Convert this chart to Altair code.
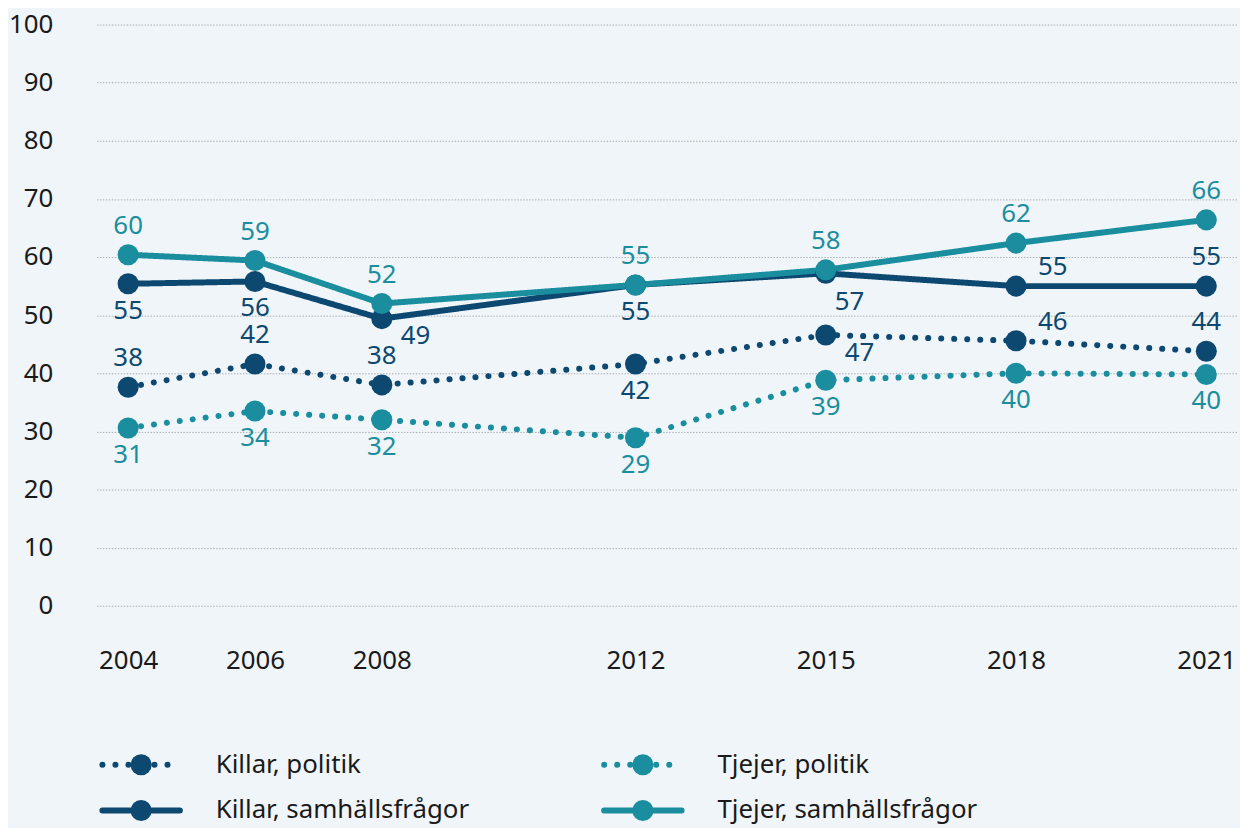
import altair as alt
import pandas as pd

years = [2004, 2006, 2008, 2012, 2015, 2018, 2021]
series_names = ["Killar, politik", "Tjejer, politik", "Killar, samhällsfrågor", "Tjejer, samhällsfrågor"]

killar_politik = [37.6, 41.6, 38.0, 41.6, 46.6, 45.6, 43.8]
tjejer_politik = [30.6, 33.5, 32.0, 28.9, 38.8, 40.0, 39.8]
killar_samhalle = [55.4, 55.8, 49.4, 55.2, 57.2, 55.0, 55.0]
tjejer_samhalle = [60.4, 59.4, 52.0, 55.2, 57.8, 62.4, 66.4]

# label placement category for each point
killar_politik_pos = ["above", "above", "above", "below", "right_down", "right_up", "above"]
tjejer_politik_pos = ["below"] * 7
killar_samhalle_pos = ["below", "below", "right_down", "below", "below_shift", "right_up", "above"]
tjejer_samhalle_pos = ["above"] * 7

colors = ["#0c4870", "#1a8e9f", "#0c4870", "#1a8e9f"]
dashes = [[0.1, 13], [0.1, 13], [1, 0], [1, 0]]

rows = []
for name, vals, pos in zip(
    series_names,
    [killar_politik, tjejer_politik, killar_samhalle, tjejer_samhalle],
    [killar_politik_pos, tjejer_politik_pos, killar_samhalle_pos, tjejer_samhalle_pos],
):
    for y, v, p in zip(years, vals, pos):
        rows.append({"year": y, "value": v, "series": name, "pos": p})
df = pd.DataFrame(rows)
legend_df = pd.DataFrame({"series": series_names, "idx": list(range(len(series_names)))})

FONT = "Noto Sans"
TEXT = "#1a1a1a"
color_scale = alt.Scale(domain=series_names, range=colors)
dash_scale = alt.Scale(domain=series_names, range=dashes)

x_enc = alt.X("year:Q", scale=alt.Scale(domain=[2003.5, 2021.5], nice=False, zero=False),
              axis=alt.Axis(values=years, format="d", title=None, grid=False, domain=False,
                            ticks=False, labelPadding=42, labelFontSize=26, labelFont=FONT,
                            labelColor=TEXT))
y_enc = alt.Y("value:Q", scale=alt.Scale(domain=[0, 100], nice=False),
              axis=alt.Axis(values=list(range(0, 101, 10)), title=None, domain=False, ticks=False,
                            labelPadding=44, labelFontSize=26, labelFont=FONT, labelColor=TEXT,
                            grid=True, gridDash=[1.5, 1.5], gridColor="#a9b0b5", gridWidth=1))

color_enc = alt.Color("series:N", scale=color_scale, legend=None)
dash_enc = alt.StrokeDash("series:N", scale=dash_scale, legend=None)

base = alt.Chart(df)

lines = base.mark_line(strokeWidth=6, strokeCap="round").encode(
    x=x_enc, y=y_enc, color=color_enc, strokeDash=dash_enc, detail="series:N",
)

points = base.mark_point(filled=True, size=450, opacity=1).encode(
    x=x_enc, y=y_enc, color=color_enc,
)

offsets = {
    "above": (0, -29),
    "below": (0, 27),
    "right_down": (34, 18),
    "right_up": (37, -19),
    "below_shift": (24, 29),
}

text_layers = []
for p, (dx, dy) in offsets.items():
    text_layers.append(
        base.transform_filter(alt.datum.pos == p).mark_text(
            dx=dx, dy=dy, fontSize=26, font=FONT, baseline="middle", align="center"
        ).encode(
            x=x_enc, y=y_enc,
            text=alt.Text("value:Q", format=".0f"),
            color=color_enc,
        )
    )

# custom legend (2 columns x 2 rows) below the plot
leg = alt.Chart(legend_df).transform_calculate(
    col="datum.idx % 2", row="floor(datum.idx / 2)"
).transform_calculate(
    x0="6 + datum.col * 505",
    x1="84 + datum.col * 505",
    xc="45 + datum.col * 505",
    xt="120 + datum.col * 505",
    yy="745 + datum.row * 46",
)

leg_line = leg.mark_rule(strokeWidth=6, strokeCap="round").encode(
    x=alt.X("x0:Q", scale=None, axis=None), x2="x1:Q",
    y=alt.Y("yy:Q", scale=None, axis=None),
    color=color_enc, strokeDash=dash_enc,
)
leg_point = leg.mark_point(filled=True, size=450, opacity=1).encode(
    x=alt.X("xc:Q", scale=None, axis=None),
    y=alt.Y("yy:Q", scale=None, axis=None),
    color=color_enc,
)
leg_text = leg.mark_text(fontSize=26, font=FONT, align="left", baseline="middle", color=TEXT).encode(
    x=alt.X("xt:Q", scale=None, axis=None),
    y=alt.Y("yy:Q", scale=None, axis=None),
    text="series:N",
)

chart = alt.layer(lines, points, *text_layers, leg_line, leg_point, leg_text).properties(
    width=1149, height=585,
    autosize=alt.AutoSizeParams(type="none"),
    padding={"left": 89, "top": 14, "right": 2, "bottom": 221},
    background="#f0f5f9",
).configure_view(stroke=None)

chart.save("out.html", embed_options={"renderer": "svg", "actions": False})
